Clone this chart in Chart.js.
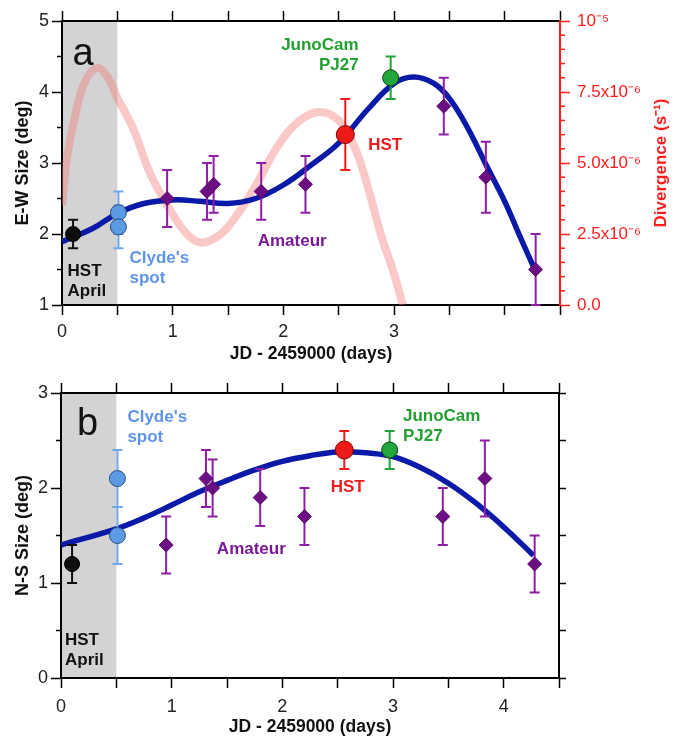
<!DOCTYPE html>
<html>
<head>
<meta charset="utf-8">
<script src="https://cdn.jsdelivr.net/npm/chart.js@4.4.1/dist/chart.umd.min.js"></script>
<style>
  body { margin: 0; background: #fff; }
  canvas { display: block; }
</style>
</head>
<body>
<canvas id="ew" width="683" height="370"></canvas>
<canvas id="ns" width="683" height="368"></canvas>
<script>
// observation times, days after JD 2459000
const hstAprilX = [0.1];
const clydeX = [0.51, 0.51];
const amateurX = [0.95, 1.31, 1.37, 1.80, 2.20, 3.45, 3.83, 4.28];
const hstX = [2.56];
const junoX = [2.97];

// E-W size (deg) with errors
const ewHstApril = [2.0], ewHstAprilErr = [0.2];
const ewClyde = [2.3, 2.1], ewClydeErr = [0.3, 0.3];
const ewAmateur = [2.5, 2.6, 2.7, 2.6, 2.7, 3.8, 2.8, 1.5];
const ewAmateurErr = [0.4, 0.4, 0.4, 0.4, 0.4, 0.4, 0.5, 0.5];
const ewHst = [3.4], ewHstErr = [0.5];
const ewJuno = [4.2], ewJunoErr = [0.3];

// smooth fit through the E-W sizes
const ewFitX = [0, 0.28, 0.5, 0.74, 1.0, 1.25, 1.5, 1.75, 2.0, 2.25, 2.5, 2.76, 3.0, 3.18, 3.36, 3.5, 3.66, 3.84, 4.0, 4.14, 4.28];
const ewFit = [1.89, 2.08, 2.29, 2.43, 2.48, 2.46, 2.43, 2.50, 2.69, 2.97, 3.28, 3.75, 4.12, 4.21, 4.12, 3.91, 3.51, 2.95, 2.46, 1.96, 1.47];

// divergence, in units of 1e-6 s^-1
const divX = [0, 0.05, 0.11, 0.2, 0.31, 0.4, 0.5, 0.65, 0.8, 1.0, 1.13, 1.25, 1.4, 1.55, 1.75, 1.95, 2.15, 2.33, 2.5, 2.64, 2.76, 2.88, 3.0, 3.08];
const divergence = [3.5, 5.3, 6.5, 7.8, 8.35, 8.1, 7.3, 6.15, 4.6, 3.2, 2.5, 2.2, 2.4, 3.0, 4.2, 5.6, 6.5, 6.8, 6.5, 5.6, 4.2, 2.5, 1.1, 0];

// N-S size (deg) with errors
const nsHstApril = [1.2], nsHstAprilErr = [0.2];
const nsClyde = [2.1, 1.5], nsClydeErr = [0.3, 0.3];
const nsAmateur = [1.4, 2.1, 2.0, 1.9, 1.7, 1.7, 2.1, 1.2];
const nsAmateurErr = [0.3, 0.3, 0.3, 0.3, 0.3, 0.3, 0.4, 0.3];
const nsHst = [2.4], nsHstErr = [0.2];
const nsJuno = [2.4], nsJunoErr = [0.2];

const nsFitX = [0, 0.5, 0.74, 1.0, 1.25, 1.5, 1.75, 2.0, 2.25, 2.5, 2.76, 3.0, 3.24, 3.5, 3.75, 4.0, 4.27];
const nsFit = [1.40, 1.57, 1.68, 1.82, 1.96, 2.08, 2.19, 2.28, 2.34, 2.38, 2.37, 2.33, 2.22, 2.05, 1.84, 1.59, 1.29];

const FAM = "'Liberation Sans', Arial, sans-serif";
Chart.defaults.font.family = FAM;

function pts(xs, ys) {
    return xs.map((x, i) => ({x: x, y: ys[i]}));
}

// grey band for the period before Clyde's spot was found
const shadeBand = {
    id: 'shadeBand',
    beforeDraw(chart, args, opts) {
        const {ctx, chartArea: a, scales: {x}} = chart;
        const x0 = x.getPixelForValue(opts.from), x1 = x.getPixelForValue(opts.to);
        ctx.save();
        ctx.fillStyle = opts.color;
        ctx.fillRect(x0, a.top, x1 - x0, a.bottom - a.top);
        ctx.restore();
    }
};

// vertical error bars, drawn just under each dataset's markers
const errorBars = {
    id: 'errorBars',
    beforeDatasetDraw(chart, args) {
        const ds = chart.data.datasets[args.index];
        if (!ds.errors) return;
        const ctx = chart.ctx;
        const xs = chart.scales[args.meta.xAxisID], ys = chart.scales[args.meta.yAxisID];
        ctx.save();
        ctx.strokeStyle = ds.errorColor;
        ctx.lineWidth = 2;
        ds.data.forEach((p, i) => {
            const px = xs.getPixelForValue(p.x);
            const top = ys.getPixelForValue(p.y + ds.errors[i]);
            const bot = ys.getPixelForValue(p.y - ds.errors[i]);
            ctx.beginPath();
            ctx.moveTo(px, top); ctx.lineTo(px, bot);
            ctx.moveTo(px - 5, top); ctx.lineTo(px + 5, top);
            ctx.moveTo(px - 5, bot); ctx.lineTo(px + 5, bot);
            ctx.stroke();
        });
        ctx.restore();
    }
};

// short ticks between the labelled ones
const minorTicks = {
    id: 'minorTicks',
    afterDraw(chart, args, opts) {
        const {ctx, chartArea: a} = chart;
        (opts.axes || []).forEach(m => {
            const s = chart.scales[m.id];
            const left = s.position === 'left';
            const edge = left ? a.left : a.right;
            const dir = left ? -1 : 1;
            const n = Math.round((s.max - s.min) / m.step);
            ctx.save();
            ctx.strokeStyle = m.color;
            ctx.lineWidth = 1.5;
            for (let k = 0; k <= n; k++) {
                const v = s.min + k * m.step;
                if (Math.abs(v / m.major - Math.round(v / m.major)) < 1e-6) continue;
                const py = s.getPixelForValue(v);
                ctx.beginPath();
                ctx.moveTo(edge, py);
                ctx.lineTo(edge + dir * m.length, py);
                ctx.stroke();
            }
            ctx.restore();
        });
    }
};

// text labels placed in data coordinates
const notes = {
    id: 'notes',
    afterDatasetsDraw(chart, args, opts) {
        const {ctx, scales} = chart;
        (opts.items || []).forEach(n => {
            const px = scales.x.getPixelForValue(n.x), py = scales.y.getPixelForValue(n.y);
            ctx.save();
            ctx.font = n.font || ('bold 17px ' + FAM);
            ctx.fillStyle = n.color;
            ctx.textAlign = n.align || 'center';
            ctx.textBaseline = n.baseline || 'middle';
            n.lines.forEach((t, i) => ctx.fillText(t, px, py + i * 20));
            ctx.restore();
        });
    }
};

// right-hand axis title, read bottom to top
const sideTitle = {
    id: 'sideTitle',
    afterDraw(chart, args, opts) {
        if (!opts.text) return;
        const {ctx, chartArea: a} = chart;
        const s = chart.scales[opts.axis];
        ctx.save();
        ctx.translate(s.right - opts.offset, (a.top + a.bottom) / 2);
        ctx.rotate(-Math.PI / 2);
        ctx.font = 'bold 17px ' + FAM;
        ctx.fillStyle = opts.color;
        ctx.textAlign = 'center';
        ctx.textBaseline = 'middle';
        ctx.fillText(opts.text, 0, 0);
        ctx.restore();
    }
};

function xAxes(height, labelMax, labelPad, titlePad) {
    return {
        x: {
            type: 'linear', position: 'bottom', min: 0, max: 4.5,
            afterFit: s => { s.height = height; },
            border: {color: '#000', width: 2},
            grid: {drawOnChartArea: false, tickLength: 10, tickWidth: 1.5, tickColor: '#000'},
            ticks: {
                stepSize: 0.5, padding: labelPad, color: '#222', autoSkip: false, maxRotation: 0,
                font: {size: 18},
                callback: v => (Number.isInteger(v) && v <= labelMax) ? String(v) : ''
            },
            title: {
                display: true, text: 'JD - 2459000 (days)', color: '#111',
                font: {size: 17.5, weight: 'bold'}, padding: {top: 0, bottom: titlePad}
            }
        },
        x2: {
            type: 'linear', position: 'top', min: 0, max: 4.5,
            afterFit: s => { s.height = 0; },
            border: {color: '#000', width: 2},
            grid: {drawOnChartArea: false, tickLength: 10, tickWidth: 1.5, tickColor: '#000'},
            ticks: {display: false, stepSize: 0.5}
        }
    };
}

function sizeAxis(min, max, width, title) {
    return {
        type: 'linear', position: 'left', min: min, max: max,
        afterFit: s => { s.width = width; },
        border: {color: '#000', width: 2},
        grid: {drawOnChartArea: false, tickLength: 10, tickWidth: 1.5, tickColor: '#000'},
        ticks: {stepSize: 1, padding: 3, color: '#222', font: {size: 18}},
        title: {display: true, text: title, color: '#111', font: {size: 18, weight: 'bold'}, padding: {top: 12}}
    };
}

function markerSets(vals) {
    return [
        {data: pts(hstAprilX, vals.hstApril), errors: vals.hstAprilErr, errorColor: '#111',
         pointStyle: 'circle', pointRadius: 7.5, backgroundColor: '#0d0d0d', borderColor: '#000', borderWidth: 1, order: 1},
        {data: pts(clydeX, vals.clyde), errors: vals.clydeErr, errorColor: '#6ea6ee',
         pointStyle: 'circle', pointRadius: 8, backgroundColor: '#5b9be6', borderColor: '#2c4d78', borderWidth: 1, order: 1},
        {data: pts(amateurX, vals.amateur), errors: vals.amateurErr, errorColor: '#8e1ea6',
         pointStyle: 'rectRot', pointRadius: 7, backgroundColor: '#6c0f82', borderColor: '#5a0a6e', borderWidth: 1, order: 1},
        {data: pts(hstX, vals.hst), errors: vals.hstErr, errorColor: '#f01c1c',
         pointStyle: 'circle', pointRadius: 9, backgroundColor: '#ee1a1a', borderColor: '#7a0a0a', borderWidth: 1, order: 1},
        {data: pts(junoX, vals.juno), errors: vals.junoErr, errorColor: '#25a23a',
         pointStyle: 'circle', pointRadius: 8, backgroundColor: '#22a83a', borderColor: '#0e3e16', borderWidth: 1, order: 1}
    ];
}

const commonPlugins = {
    legend: {display: false},
    tooltip: {enabled: false},
    shadeBand: {from: 0, to: 0.5, color: '#d3d3d3'}
};

// panel a: E-W size and divergence
new Chart(document.getElementById('ew'), {
    type: 'scatter',
    data: {
        datasets: [
            {data: pts(divX, divergence), yAxisID: 'y1', showLine: true, tension: 0.4,
             borderColor: 'rgba(244,118,118,0.4)', borderWidth: 8, pointRadius: 0, order: 5},
            {data: pts(ewFitX, ewFit), showLine: true, tension: 0.4,
             borderColor: '#0a1aa8', borderWidth: 5.5, pointRadius: 0, order: 4}
        ].concat(markerSets({
            hstApril: ewHstApril, hstAprilErr: ewHstAprilErr, clyde: ewClyde, clydeErr: ewClydeErr,
            amateur: ewAmateur, amateurErr: ewAmateurErr, hst: ewHst, hstErr: ewHstErr, juno: ewJuno, junoErr: ewJunoErr
        }))
    },
    options: {
        responsive: false,
        animation: false,
        layout: {padding: {top: 21}},
        scales: Object.assign(xAxes(65, 3, 6, 5), {
            y: sizeAxis(1, 5, 62, 'E-W Size (deg)'),
            y1: {
                type: 'linear', position: 'right', min: 0, max: 10,
                afterFit: s => { s.width = 123; },
                border: {color: '#ff1c1c', width: 2},
                grid: {drawOnChartArea: false, tickLength: 10, tickWidth: 1.5, tickColor: '#ff1c1c'},
                ticks: {
                    stepSize: 2.5, padding: 7, color: '#ff1c1c', font: {size: 17},
                    callback: v => v === 10 ? '10\u207B\u2075' : (v === 0 ? '0.0' : v.toFixed(1) + 'x10\u207B\u2076')
                }
            }
        }),
        plugins: Object.assign({}, commonPlugins, {
            minorTicks: {axes: [
                {id: 'y', step: 0.5, major: 1, length: 5, color: '#000'},
                {id: 'y1', step: 0.5, major: 2.5, length: 5, color: '#ff1c1c'}
            ]},
            sideTitle: {axis: 'y1', text: 'Divergence (s\u207B\u00B9)', offset: 22, color: '#ff1c1c'},
            notes: {items: [
                {lines: ['a'], x: 0.095, y: 4.38, font: '38px ' + FAM, color: '#111', align: 'left', baseline: 'alphabetic'},
                {lines: ['JunoCam', 'PJ27'], x: 2.68, y: 4.66, color: '#22a030', align: 'right'},
                {lines: ['HST'], x: 2.92, y: 3.25, color: '#ee1c1c'},
                {lines: ['Amateur'], x: 2.08, y: 1.89, color: '#7a1a99'},
                {lines: ["Clyde's", 'spot'], x: 0.61, y: 1.66, color: '#5f95e8', align: 'left'},
                {lines: ['HST', 'April'], x: 0.05, y: 1.48, color: '#111', align: 'left'}
            ]}
        })
    },
    plugins: [shadeBand, errorBars, minorTicks, notes, sideTitle]
});

// panel b: N-S size
new Chart(document.getElementById('ns'), {
    type: 'scatter',
    data: {
        datasets: [
            {data: pts(nsFitX, nsFit), showLine: true, tension: 0.4,
             borderColor: '#0a1aa8', borderWidth: 5.5, pointRadius: 0, order: 4}
        ].concat(markerSets({
            hstApril: nsHstApril, hstAprilErr: nsHstAprilErr, clyde: nsClyde, clydeErr: nsClydeErr,
            amateur: nsAmateur, amateurErr: nsAmateurErr, hst: nsHst, hstErr: nsHstErr, juno: nsJuno, junoErr: nsJunoErr
        }))
    },
    options: {
        responsive: false,
        animation: false,
        layout: {padding: {top: 23}},
        scales: Object.assign(xAxes(60, 4, 8, 0), {
            y: sizeAxis(0, 3, 61, 'N-S Size (deg)'),
            y1: {
                type: 'linear', position: 'right', min: 0, max: 3,
                afterFit: s => { s.width = 124; },
                border: {color: '#000', width: 2},
                grid: {drawOnChartArea: false, tickLength: 7, tickWidth: 1.5, tickColor: '#000'},
                ticks: {display: false, stepSize: 0.5}
            }
        }),
        plugins: Object.assign({}, commonPlugins, {
            minorTicks: {axes: [{id: 'y', step: 0.5, major: 1, length: 5, color: '#000'}]},
            notes: {items: [
                {lines: ['b'], x: 0.145, y: 2.56, font: '38px ' + FAM, color: '#111', align: 'left', baseline: 'alphabetic'},
                {lines: ["Clyde's", 'spot'], x: 0.6, y: 2.74, color: '#5f95e8', align: 'left'},
                {lines: ['HST', 'April'], x: 0.036, y: 0.40, color: '#111', align: 'left'},
                {lines: ['Amateur'], x: 1.72, y: 1.35, color: '#7a1a99'},
                {lines: ['HST'], x: 2.59, y: 2.01, color: '#ee1c1c'},
                {lines: ['JunoCam', 'PJ27'], x: 3.09, y: 2.75, color: '#22a030', align: 'left'}
            ]}
        })
    },
    plugins: [shadeBand, errorBars, minorTicks, notes]
});
</script>
</body>
</html>
